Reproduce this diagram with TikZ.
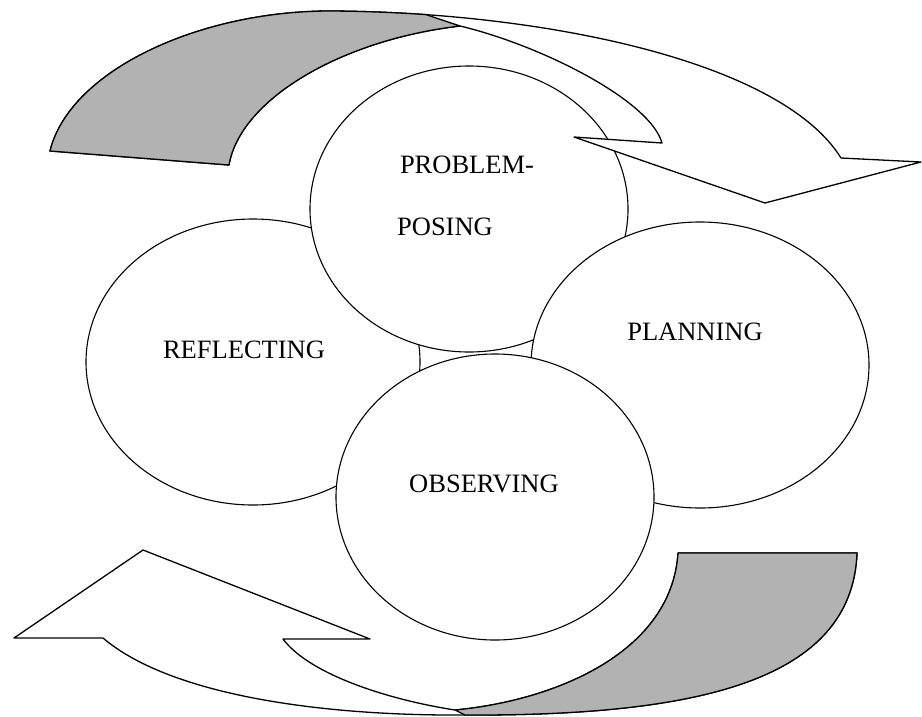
\documentclass[tikz,border=0pt]{standalone}
\usepackage{fontspec}
\setmainfont{Liberation Serif}
\usetikzlibrary{shapes.geometric}
\begin{document}
\begin{tikzpicture}[x=1pt,y=-1pt,
  ell/.style={ellipse, draw=black, fill=white, line width=1.1pt, inner sep=0pt},
  band/.style={draw=black, fill=white, line width=1.3pt, line join=round},
  stip/.style={draw=black, fill=black!30, line width=1.3pt, line join=round},
  lbl/.style={font=\fontsize{26.5}{30}\selectfont, anchor=base, inner sep=0pt}]
\useasboundingbox[fill=white] (0,0) rectangle (922,716);

% ellipses (stacking order: reflecting, posing, planning, observing)
\node[ell, minimum width=334pt, minimum height=286pt] (reflecting) at (253,362) {};
\node[ell, minimum width=318pt, minimum height=286pt] (posing) at (469,209) {};

% top curved arrow
\coordinate (ta0) at (50,151);
\coordinate (ta1) at (330,11);
\coordinate (ta2) at (841,158);
\coordinate (tb1) at (921,162);
\coordinate (ttip) at (765,203);
\coordinate (tb2) at (574,137);
\coordinate (tb3) at (662,143);
\coordinate (tcr) at (460,26);
\coordinate (tin) at (229,165);
\coordinate (tsplit) at (426,14.6);
\draw[band] (ta0) .. controls (70,70) and (200,11) .. (ta1)
  .. controls (540,12) and (780,60) .. (ta2)
  -- (tb1) -- (ttip) -- (tb2) -- (tb3)
  .. controls (650,100) and (540,45) .. (tcr)
  .. controls (340,40) and (240,100) .. (tin) -- cycle;
\draw[stip] (ta0) .. controls (70,70) and (200,11) .. (ta1)
  .. controls (361.5,11.15) and (393.7,12.4) .. (tsplit)
  -- (tcr)
  .. controls (340,40) and (240,100) .. (tin) -- cycle;

\node[ell, minimum width=338pt, minimum height=286pt] (planning) at (700,365) {};
\node[ell, minimum width=318pt, minimum height=286pt] (observing) at (495,497) {};

% bottom curved arrow
\coordinate (ba0) at (857,553);
\coordinate (ba1) at (465,715);
\coordinate (ba2) at (103,638);
\coordinate (bb1) at (14,638);
\coordinate (btip) at (143,550);
\coordinate (bb2) at (370,639);
\coordinate (bb3) at (283,639);
\coordinate (bcr) at (455,710);
\coordinate (bin) at (678,553);
\draw[band] (ba0) .. controls (852,680) and (700,716) .. (ba1)
  .. controls (320,716) and (170,695) .. (ba2)
  -- (bb1) -- (btip) -- (bb2) -- (bb3)
  .. controls (310,675) and (390,700) .. (bcr)
  .. controls (560,700) and (672,650) .. (bin) -- cycle;
\draw[stip] (ba0) .. controls (852,680) and (700,716) .. (ba1)
  -- (bcr)
  .. controls (560,700) and (672,650) .. (bin) -- cycle;

% labels
\node[lbl] (t1) at (467,173) {PROBLEM-};
\node[lbl] (t2) at (445,235) {POSING};
\node[lbl] (t3) at (244,358) {REFLECTING};
\node[lbl] (t4) at (695,340) {PLANNING};
\node[lbl] (t5) at (484,492) {OBSERVING};
\end{tikzpicture}
\end{document}
